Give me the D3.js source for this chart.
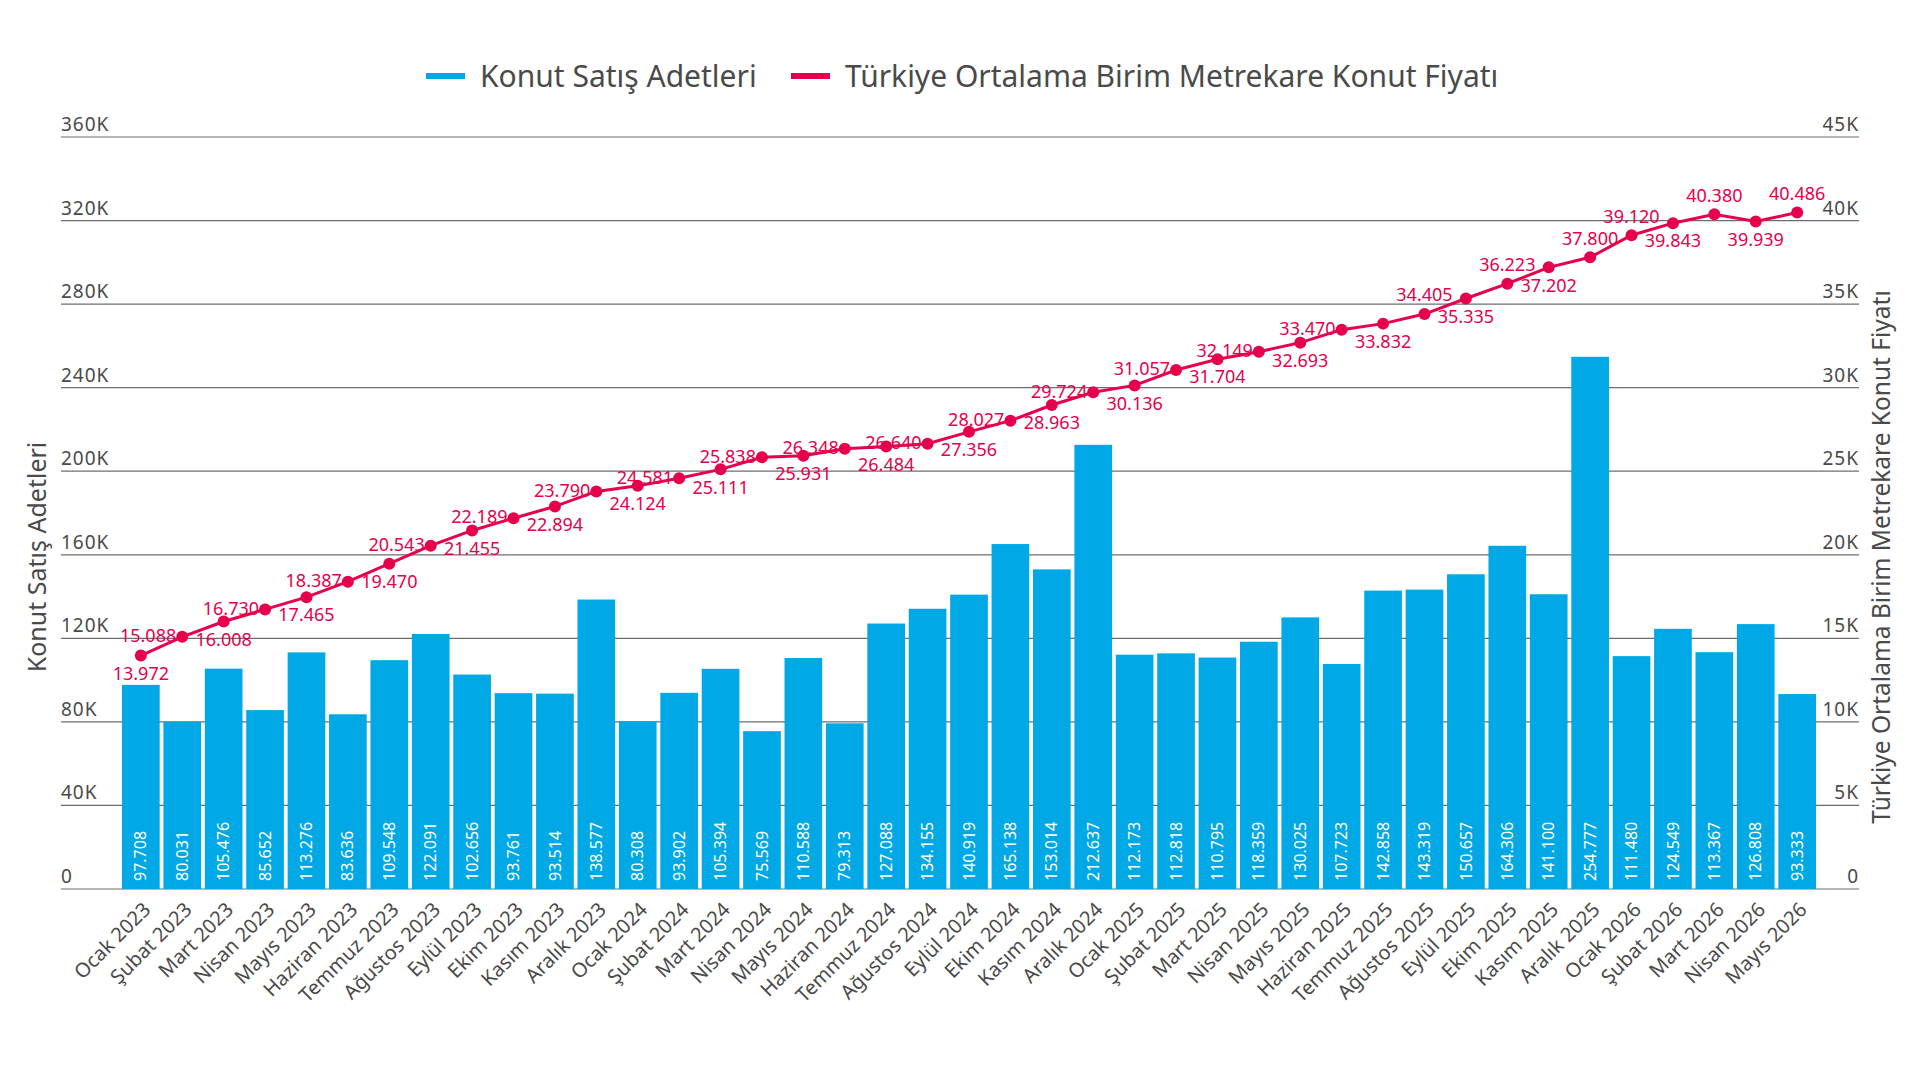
<!DOCTYPE html>
<html>
<head>
<meta charset="utf-8">
<script src="https://cdn.jsdelivr.net/npm/d3@7"></script>
<style>
body { margin: 0; background: #fff; }
text { font-family: "Noto Sans", Lato, sans-serif; }
</style>
</head>
<body>
<div id="chart"></div>
<script>

var months = [ "Ocak 2023", "Şubat 2023", "Mart 2023", "Nisan 2023", "Mayıs 2023", "Haziran 2023",
	"Temmuz 2023", "Ağustos 2023", "Eylül 2023", "Ekim 2023", "Kasım 2023", "Aralık 2023",
	"Ocak 2024", "Şubat 2024", "Mart 2024", "Nisan 2024", "Mayıs 2024", "Haziran 2024",
	"Temmuz 2024", "Ağustos 2024", "Eylül 2024", "Ekim 2024", "Kasım 2024", "Aralık 2024",
	"Ocak 2025", "Şubat 2025", "Mart 2025", "Nisan 2025", "Mayıs 2025", "Haziran 2025",
	"Temmuz 2025", "Ağustos 2025", "Eylül 2025", "Ekim 2025", "Kasım 2025", "Aralık 2025",
	"Ocak 2026", "Şubat 2026", "Mart 2026", "Nisan 2026", "Mayıs 2026" ];

// Konut Satış Adetleri
var sales = [ 97708, 80031, 105476, 85652, 113276, 83636, 109548, 122091, 102656, 93761, 93514, 138577,
	80308, 93902, 105394, 75569, 110588, 79313, 127088, 134155, 140919, 165138, 153014, 212637,
	112173, 112818, 110795, 118359, 130025, 107723, 142858, 143319, 150657, 164306, 141100, 254777,
	111480, 124549, 113367, 126808, 93333 ];

// Türkiye Ortalama Birim Metrekare Konut Fiyatı
var prices = [ 13972, 15088, 16008, 16730, 17465, 18387, 19470, 20543, 21455, 22189, 22894, 23790,
	24124, 24581, 25111, 25838, 25931, 26348, 26484, 26640, 27356, 28027, 28963, 29724,
	30136, 31057, 31704, 32149, 32693, 33470, 33832, 34405, 35335, 36223, 37202, 37800,
	39120, 39843, 40380, 39939, 40486 ];

var salesTicks = [ 0, 40000, 80000, 120000, 160000, 200000, 240000, 280000, 320000, 360000 ];
var priceTicks = [ 0, 5000, 10000, 15000, 20000, 25000, 30000, 35000, 40000, 45000 ];

var legendLabels = [ "Konut Satış Adetleri", "Türkiye Ortalama Birim Metrekare Konut Fiyatı" ];

var blue = "#00a8e6", pink = "#e6004c", grey = "#4a4a4a";

var width = 1920, height = 1067;
var plotLeft = 61, plotRight = 1859, plotTop = 137, plotBottom = 889;

var svg = d3.select("#chart").append("svg").attr("width", width).attr("height", height);

var x = d3.scaleBand().domain(months).range([ 122, 1816 ]).paddingInner(0.09).paddingOuter(0);
var ySales = d3.scaleLinear().domain([ 0, 360000 ]).range([ plotBottom, plotTop ]);
var yPrice = d3.scaleLinear().domain([ 0, 45000 ]).range([ plotBottom, plotTop ]);

var tr = d3.formatLocale({ decimal : ",", thousands : ".", grouping : [ 3 ], currency : [ "", "" ] });
var fmt = tr.format(",d");
function kfmt(v) {
	return v === 0 ? "0" : (v / 1000) + "K";
}

// grid
svg.append("g").selectAll("line").data(salesTicks).enter().append("line")
	.attr("x1", plotLeft).attr("x2", plotRight)
	.attr("y1", function(d) { return ySales(d); })
	.attr("y2", function(d) { return ySales(d); })
	.attr("stroke", "#6e6e6e").attr("stroke-width", 1.2);

svg.append("g").selectAll("text").data(salesTicks).enter().append("text")
	.attr("x", plotLeft).attr("y", function(d) { return ySales(d) - 6; })
	.attr("font-size", 19).attr("fill", grey).attr("letter-spacing", 1)
	.text(kfmt);

svg.append("g").selectAll("text").data(priceTicks).enter().append("text")
	.attr("x", plotRight).attr("y", function(d) { return yPrice(d) - 6; })
	.attr("text-anchor", "end")
	.attr("font-size", 19).attr("fill", grey).attr("letter-spacing", 1)
	.text(kfmt);

// axis titles
svg.append("text").attr("transform", "translate(46,557) rotate(-90)")
	.attr("text-anchor", "middle").attr("font-size", 25).attr("fill", grey)
	.text(legendLabels[0]);

svg.append("text").attr("transform", "translate(1890,557) rotate(-90)")
	.attr("text-anchor", "middle").attr("font-size", 24.5).attr("fill", grey)
	.text(legendLabels[1]);

// legend
var legend = svg.append("g");
var legendX = [ 426, 791 ];
var legendColors = [ blue, pink ];
legendLabels.forEach(function(l, i) {
	legend.append("rect").attr("x", legendX[i]).attr("y", 73).attr("width", 39).attr("height", 6)
		.attr("fill", legendColors[i]);
	legend.append("text").attr("x", legendX[i] + 54).attr("y", 87)
		.attr("font-size", 30).attr("fill", grey).text(l);
});

// bars
svg.append("g").selectAll("rect").data(sales).enter().append("rect")
	.attr("x", function(d, i) { return x(months[i]); })
	.attr("y", function(d) { return ySales(d); })
	.attr("width", x.bandwidth())
	.attr("height", function(d) { return plotBottom - ySales(d); })
	.attr("fill", blue);

svg.append("g").selectAll("text").data(sales).enter().append("text")
	.attr("transform", function(d, i) {
		return "translate(" + (x(months[i]) + x.bandwidth() / 2) + "," + (plotBottom - 8) + ") rotate(-90)";
	})
	.attr("dy", "0.35em").attr("font-size", 16).attr("fill", "#fff")
	.text(fmt);

// x labels
svg.append("g").selectAll("text").data(months).enter().append("text")
	.attr("transform", function(d) {
		return "translate(" + (x(d) + x.bandwidth() / 2 + 1) + "," + (plotBottom + 12) + ") rotate(-45)";
	})
	.attr("text-anchor", "end").attr("dy", "0.7em")
	.attr("font-size", 20).attr("fill", grey)
	.text(function(d) { return d; });

// price line
function cx(i) {
	return x(months[i]) + x.bandwidth() / 2;
}
var line = d3.line().x(function(d, i) { return cx(i); }).y(function(d) { return yPrice(d); });

svg.append("path").datum(prices).attr("d", line)
	.attr("fill", "none").attr("stroke", pink).attr("stroke-width", 3);

svg.append("g").selectAll("circle").data(prices).enter().append("circle")
	.attr("cx", function(d, i) { return cx(i); })
	.attr("cy", function(d) { return yPrice(d); })
	.attr("r", 6).attr("fill", pink);

// label side follows the original: odd points to the left, even below,
// the last stretch flips above/below
function side(i) {
	if (i >= 36)
		return (i === 37 || i === 39) ? "below" : "above";
	if (i % 2 === 0)
		return "below";
	return i < 31 ? "left" : "above";
}

svg.append("g").selectAll("text").data(prices).enter().append("text")
	.attr("x", function(d, i) { return side(i) === "left" ? cx(i) - 6 : cx(i); })
	.attr("y", function(d, i) {
		var s = side(i), y = yPrice(d);
		if (s === "below") return y + 18;
		if (s === "above") return y - 19;
		return y - 1;
	})
	.attr("text-anchor", function(d, i) { return side(i) === "left" ? "end" : "middle"; })
	.attr("dy", "0.35em").attr("font-size", 18).attr("fill", pink)
	.text(fmt);

</script>
</body>
</html>
